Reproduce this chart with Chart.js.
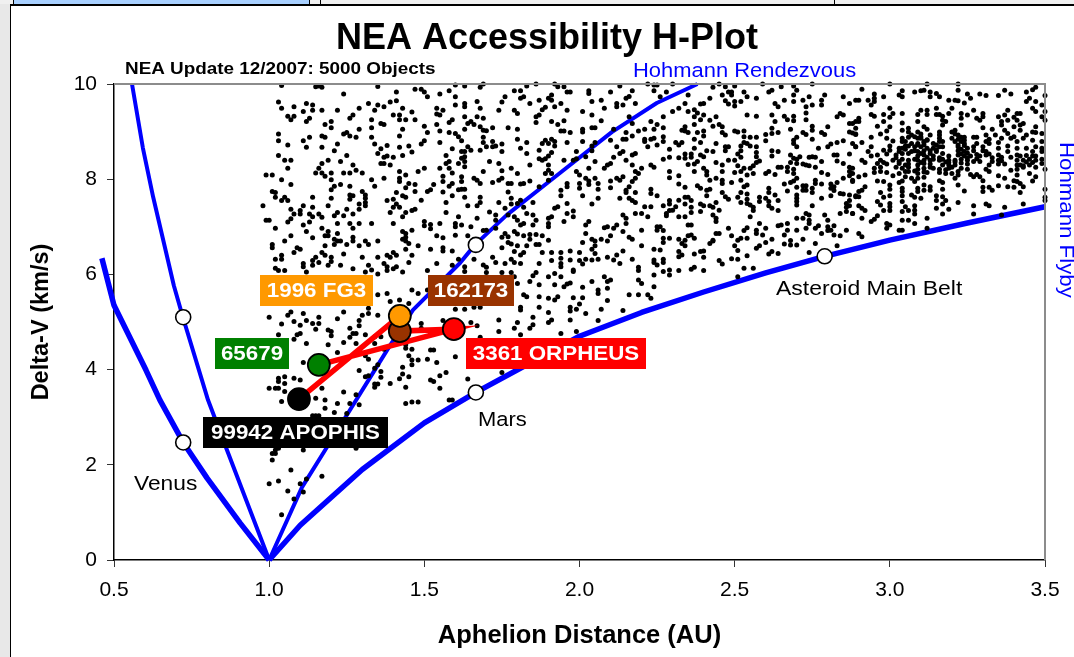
<!DOCTYPE html>
<html><head><meta charset="utf-8">
<style>
html,body{margin:0;padding:0;background:#fff;overflow:hidden;width:1074px;height:657px}
.b{position:absolute}
canvas{position:absolute;left:0;top:0}
</style>
<script src="https://cdn.jsdelivr.net/npm/chart.js@4"></script>
</head><body>
<div class="b" style="left:0;top:0;width:10px;height:657px;background:#e8e8e8"></div>
<div class="b" style="left:0;top:0;width:1074px;height:4px;background:#f0f0f0"></div>
<div class="b" style="left:14px;top:0;width:295px;height:4px;background:#a8d0ff"></div>
<div class="b" style="left:13px;top:0;width:1px;height:4px;background:#000"></div>
<div class="b" style="left:309px;top:0;width:1px;height:4px;background:#000"></div>
<div class="b" style="left:320px;top:0;width:1px;height:4px;background:#000"></div>
<div class="b" style="left:834px;top:0;width:1px;height:4px;background:#000"></div>
<div class="b" style="left:10px;top:4px;width:1064px;height:2px;background:#000"></div>
<div class="b" style="left:10px;top:4px;width:1px;height:653px;background:#000"></div>
<canvas id="c" width="1074" height="657"></canvas>
<script>
// Curves: [aphelion AU, delta-V km/s]
const venusFlyby=[[0.461,6.34],[0.5,5.35],[0.603,3.99],[0.648,3.36],[0.723,2.47],[0.8,1.72],[0.906,0.78],[1.0,0]];
const venusRendezvous=[[0.558,10],[0.593,8.66],[0.626,7.63],[0.693,5.76],[0.722,5.1],[0.803,3.36],[0.864,2.31],[1.0,0]];
const marsFlyby=[[1.0,0],[1.1,0.73],[1.3,1.9],[1.5,2.88],[1.666,3.52],[2.0,4.7],[2.2,5.2],[2.4,5.63],[2.6,6.03],[2.79,6.38],[3.0,6.72],[3.25,7.08],[3.5,7.42]];
const marsRendezvous=[[1.0,0],[1.106,1.53],[1.186,2.37],[1.38,4.41],[1.463,5.25],[1.615,6.24],[1.663,6.62],[1.766,7.25],[1.937,8.13],[2.104,8.99],[2.249,9.6],[2.38,10]];
const referenceBodies=[[0.723,5.1],[0.723,2.47],[1.666,6.62],[1.666,3.52],[2.79,6.38]];
// Highlighted asteroids
const highlightNames=["99942 APOPHIS","65679","162173","1996 FG3","3361 ORPHEUS"];
const highlightAphelion=[1.096,1.16,1.421,1.421,1.595];
const highlightDeltaV=[3.38,4.10,4.81,5.13,4.85];
const highlightColors=["#000000","#008000","#993300","#ff9900","#ff0000"];
const routeOrder=[0,3,2,4,1];
const xTicks=[0.5,1.0,1.5,2.0,2.5,3.0,3.5];
const yTicks=[0,2,4,6,8,10];
// NEA cloud, flat lists of aphelion, delta-V pairs
const neaWest=[1.04,9.97,1.15,9.94,1.16,9.96,1.17,9.93,1.35,9.95,1.24,9.79,1.41,9.83,1.47,9.89,1.49,9.89,1.5,9.83,1.51,9.73,1.55,9.79,1.58,9.86,1.6,9.98,1.6,9.73,1.03,9.62,1.08,9.52,1.04,9.49,1.12,9.59,1.14,9.56,1.14,9.45,1.11,9.42,1.17,9.45,1.22,9.45,1.29,9.49,1.32,9.59,1.35,9.56,1.34,9.45,1.37,9.52,1.39,9.62,1.41,9.65,1.43,9.49,1.46,9.41,1.4,9.35,1.42,9.35,1.42,9.25,1.44,9.25,1.47,9.25,1.54,9.49,1.56,9.45,1.54,9.37,1.55,9.35,1.6,9.56,1.06,9.32,1.08,9.32,1.07,9.25,1.13,9.28,1.12,9.21,1.27,9.35,1.26,9.28,1.33,9.25,1.18,9.15,1.2,9.21,1.2,9.08,1.36,9.17,1.37,9.15,1.33,9.08,1.43,9.05,1.5,9.11,1.54,9.15,1.58,9.19,1.59,9.25,1.55,9.01,1.58,8.98,1.6,8.96,1.61,8.89,1.03,8.95,1.03,8.81,1.06,8.72,1.11,8.81,1.13,8.88,1.17,8.91,1.18,8.88,1.24,8.95,1.25,8.98,1.26,8.91,1.29,9.05,1.28,8.88,1.33,8.88,1.34,8.74,1.42,8.91,1.51,8.98,1.5,8.81,1.49,8.74,1.55,8.77,1.12,8.67,1.17,8.67,1.22,8.74,1.21,8.6,1.38,8.71,1.36,8.64,1.42,8.67,1.45,8.7,1.59,8.64,1.35,8.54,1.38,8.49,1.37,8.46,1.4,8.46,1.43,8.5,1.46,8.57,1.03,8.5,1.05,8.4,1.07,8.4,1.25,8.5,1.23,8.37,1.19,8.4,1.17,8.33,1.36,8.33,1.37,8.33,1.39,8.3,1.57,8.5,1.58,8.37,1.57,8.33,1.61,8.33,1.06,8.23,1.27,8.3,1.28,8.19,1.16,8.23,1.15,8.13,1.17,8.13,1.18,8.06,1.2,8.13,1.24,8.13,1.26,8.13,1.3,8.13,0.99,8.09,1.01,8.09,1.48,8.16,1.5,8.23,1.55,8.23,1.58,8.23,1.59,8.13,1.42,8.16,1.44,8.09,1.42,8.02,1.42,7.95,1.56,8.06,1.56,7.95,1.37,8.02,1.33,7.99,1.2,7.99,1.04,7.99,1.07,7.89,1.23,7.89,1.26,7.85,1.21,7.85,1.2,7.78,1.34,7.85,1.45,7.91,1.47,7.89,1.44,7.82,1.59,7.91,1.58,7.85,1.53,7.89,1.52,7.78,1.51,7.74,1.61,7.78,1.47,7.74,1.01,7.74,1.02,7.72,1.3,7.74,1.31,7.67,1.41,7.72,1.56,7.73,1.43,7.65,1.44,7.62,1.02,7.62,1.05,7.62,1.04,7.55,1.06,7.55,1.14,7.62,1.2,7.6,1.26,7.67,1.27,7.65,1.26,7.58,1.31,7.6,1.31,7.51,1.29,7.48,1.38,7.55,1.4,7.58,1.49,7.56,1.59,7.65,1.57,7.51,0.98,7.44,1.11,7.44,1.14,7.41,1.19,7.44,1.31,7.44,1.41,7.48,1.4,7.41,1.42,7.41,1.07,7.37,1.25,7.37,1.29,7.37,1.47,7.37,1.1,7.34,1.1,7.27,1.08,7.27,1.13,7.27,1.14,7.21,1.16,7.27,1.17,7.2,1.22,7.3,1.21,7.23,1.24,7.23,1.27,7.27,1.39,7.3,1.44,7.3,1.43,7.21,1.46,7.34,1.57,7.3,1.61,7.21,0.99,7.14,1.0,7.14,1.07,7.17,1.06,7.1,1.11,7.04,1.13,7.1,1.22,7.07,1.26,7.07,1.29,7.07,1.33,7.07,1.4,7.07,1.5,7.11,1.5,7.02,1.52,7.05,1.52,6.96,1.55,7.07,1.6,7.07,1.6,7.0,1.02,6.97,1.17,6.97,1.27,6.97,1.12,6.9,1.19,6.9,1.43,6.9,1.44,6.86,1.46,6.93,1.07,6.81,1.14,6.77,1.18,6.81,1.19,6.81,1.22,6.86,1.27,6.78,1.44,6.78,1.54,6.81,1.56,6.77,1.6,6.82,1.05,6.7,1.21,6.74,1.22,6.7,1.23,6.7,1.25,6.63,1.27,6.7,1.31,6.7,1.32,6.63,1.29,6.6,1.35,6.7,1.43,6.74,1.44,6.7,1.45,6.65,1.48,6.6,1.01,6.63,1.01,6.56,1.18,6.6,1.21,6.63,1.09,6.56,1.1,6.53,1.08,6.46,1.44,6.53,1.52,6.53,1.56,6.56,1.56,6.49,1.59,6.49,1.17,6.46,1.18,6.4,1.24,6.43,1.4,6.46,1.41,6.4,1.38,6.4,1.46,6.4,1.04,6.4,1.04,6.32,1.02,6.32,1.15,6.36,1.14,6.29,1.2,6.36,1.2,6.27,1.16,6.25,1.3,6.36,1.35,6.36,1.39,6.36,1.61,6.32,1.11,6.23,1.11,6.16,1.14,6.19,1.19,6.19,1.23,6.19,1.32,6.19,1.37,6.23,1.38,6.16,1.38,6.08,1.45,6.25,1.54,6.23,1.59,6.19,1.02,6.13,1.03,6.08,1.05,6.08,1.12,6.05,1.27,6.12,1.31,6.05,1.33,6.09,1.35,6.01,1.41,6.16,1.4,6.12,1.43,6.05,1.51,6.08];
const neaLowWest=[1.0,5.1,1.07,5.21,1.06,5.14,1.08,5.01,1.11,5.18,1.12,5.03,1.1,4.93,1.04,4.96,1.14,4.97,1.16,5.1,1.16,4.97,1.15,4.85,1.22,5.07,1.24,5.21,1.19,4.83,1.2,4.8,1.2,4.71,1.26,4.87,1.27,4.76,1.28,4.76,1.3,5.14,1.29,5.03,1.29,4.92,1.32,5.29,1.32,5.18,1.35,5.14,1.1,4.76,1.09,4.73,1.08,4.64,1.03,4.73,1.12,4.55,1.19,4.52,1.24,4.57,1.26,4.68,1.28,4.55,1.31,4.73,1.34,4.69,1.37,4.43,1.34,4.55,1.36,4.69,1.22,4.36,1.11,4.15,1.29,4.34,1.31,4.29,1.32,4.22,1.35,4.1,1.34,4.03,1.29,3.98,1.31,3.85,1.32,3.87,1.36,3.96,1.36,3.84,1.34,3.7,1.35,3.7,1.34,3.63,1.39,3.71,1.44,3.63,1.43,4.05,1.43,3.91,1.42,3.81,1.45,3.85,1.44,4.52,1.44,4.45,1.46,4.43,1.45,4.29,1.46,4.2,1.48,4.2,1.46,4.1,1.51,4.22,1.54,4.15,1.52,4.41,1.53,4.41,1.6,4.27,1.52,3.78,1.53,3.75,1.55,3.87,1.57,3.94,1.55,3.61,1.46,3.32,1.48,3.32,1.44,3.29,1.58,3.36,1.59,3.36,1.49,4.97,1.49,4.87,1.52,4.73,1.35,5.57,1.38,5.6,1.39,5.43,1.42,5.46,1.46,5.67,1.48,5.6,1.51,5.67,1.45,5.39,1.6,5.27,1.56,5.03,1.03,3.82,1.05,3.85,1.03,3.75,1.08,3.82,1.1,3.78,1.05,3.71,1.0,3.61,1.02,3.61,1.03,3.61,1.05,3.54,1.04,3.33,1.15,3.4,1.18,3.36,1.18,3.19,1.22,3.29,1.26,3.29,1.29,3.26,1.28,3.47,1.24,3.53,1.17,3.61,1.25,3.08,1.21,3.1,1.14,3.03,1.15,3.03,1.16,3.03,1.11,2.31,1.02,2.31,1.01,2.24,1.02,2.24,1.01,2.1,1.07,1.89,1.17,1.76,1.28,2.35,1.03,2.35,1.12,1.7,1.03,1.66,1.0,1.6,1.1,1.6,1.06,1.45,1.11,1.43,1.08,1.28,1.04,0.95];
const neaCentral=[1.63,9.96,1.69,10,1.68,9.93,1.83,9.96,1.86,10,1.92,10,1.93,9.94,1.95,9.94,2.13,9.96,2.22,10,2.24,9.98,2.25,9.98,1.79,9.86,1.81,9.86,1.96,9.83,1.97,9.83,2.03,9.86,2.03,9.8,2.1,9.83,2.17,9.86,2.16,9.74,2.24,9.86,1.76,9.73,1.82,9.73,1.81,9.7,1.91,9.77,1.9,9.7,1.91,9.66,1.87,9.66,2.07,9.66,2.04,9.63,2.15,9.7,2.18,9.59,1.67,9.63,1.75,9.62,1.84,9.59,1.94,9.59,1.92,9.52,2.12,9.59,2.12,9.52,2.14,9.56,1.63,9.59,1.63,9.52,1.68,9.49,1.89,9.51,1.88,9.46,2.08,9.49,1.74,9.45,1.79,9.45,1.8,9.38,1.96,9.45,2.01,9.42,1.87,9.35,1.86,9.31,2.04,9.35,1.63,9.31,1.67,9.31,1.69,9.28,2.16,9.31,1.91,9.21,1.86,9.19,1.95,9.23,1.93,9.15,2.07,9.23,1.65,9.21,1.64,9.17,1.66,9.15,1.68,9.1,1.69,9.03,1.7,9.02,1.72,9.08,1.77,9.08,1.8,9.05,1.63,9.05,2.04,9.08,2.05,9.08,2.17,9.17,2.23,9.21,2.25,9.15,1.94,9.01,1.95,9.01,1.97,8.98,2.01,9.05,2.01,8.99,2.11,9.05,2.15,8.98,2.19,9.01,2.21,9.05,2.24,9.05,1.69,8.88,1.8,8.84,2.17,8.91,2.21,8.84,2.21,8.79,2.24,8.86,2.23,8.84,1.62,8.81,1.72,8.79,1.69,8.77,1.83,8.77,1.89,8.82,1.91,8.84,1.92,8.79,1.88,8.75,1.9,8.75,1.96,8.77,2.01,8.79,2.05,8.77,2.14,8.84,2.15,8.84,2.1,8.82,1.75,8.74,1.7,8.68,1.72,8.68,1.73,8.7,1.64,8.68,1.65,8.61,1.68,8.61,1.92,8.7,2.04,8.7,2.04,8.6,2.12,8.68,2.22,8.68,2.25,8.72,1.62,8.58,1.63,8.58,1.75,8.58,1.81,8.65,1.87,8.61,1.91,8.56,1.99,8.58,2.14,8.58,2.13,8.54,2.17,8.51,2.18,8.54,1.83,8.54,1.9,8.49,2.02,8.47,2.11,8.46,1.63,8.47,1.62,8.44,1.87,8.43,1.88,8.4,1.89,8.43,1.95,8.4,1.98,8.4,1.99,8.43,2.05,8.37,2.15,8.4,2.1,8.33,2.09,8.3,2.08,8.23,1.63,8.37,1.71,8.37,1.74,8.33,1.84,8.3,2.17,8.3,1.9,8.3,2.23,8.3,2.24,8.25,1.63,8.26,1.78,8.23,1.9,8.19,1.75,8.18,1.69,8.16,1.8,8.12,1.89,8.12,1.91,8.12,1.99,8.16,2,8.09,2.03,8.23,2.2,8.23,2.18,8.16,2.19,8.12,1.62,8.05,1.66,8.02,1.67,7.98,1.68,7.91,1.75,8.02,1.74,7.98,1.72,7.93,1.84,7.96,1.9,7.98,2.02,8.02,2.03,7.96,2.05,8.02,2.03,7.89,2.1,7.96,2.12,8.02,2.14,8.05,2.13,7.98,2.18,8.02,2.17,7.95,1.62,7.95,1.77,7.91,1.78,7.91,1.81,7.9,1.82,7.91,1.87,7.84,1.96,7.91,2,7.91,1.96,7.84,2.06,7.91,2.16,7.84,2.1,7.82,2.15,7.77,1.62,7.79,1.63,7.79,2,7.81,2.06,7.79,1.77,7.73,1.94,7.65,1.94,7.77,2.01,7.65,2.06,7.6,2.23,7.79,2.23,7.7,2.25,7.65,2.13,7.6,2.16,7.6,2.17,7.55,2.15,7.72,2.18,7.72,1.63,7.62,1.68,7.62,1.68,7.51,1.67,7.44,1.64,7.44,1.78,7.6,1.78,7.48,1.81,7.56,1.8,7.49,1.74,7.51,1.85,7.51,1.96,7.49,2.04,7.48,2.18,7.51,1.82,7.41,1.76,7.39,1.92,7.39,1.93,7.42,2.21,7.42,2.23,7.42,1.71,7.31,1.73,7.25,1.77,7.25,1.79,7.21,1.83,7.28,1.85,7.25,1.96,7.28,1.98,7.33,1.98,7.21,2.14,7.25,2.18,7.28,2.2,7.28,2.22,7.21,1.67,7.18,1.73,7.14,1.8,7.14,1.82,7.07,1.81,7.04,1.86,7.14,1.85,7.04,1.9,7.18,1.91,7.21,1.9,7.07,1.9,7,1.95,7.11,2.03,7.11,2.02,7.04,2.15,7.18,2.15,7.07,1.62,7.04,1.65,7,2.08,6.98,2.09,7,2.12,7.04,2.11,6.97,2.25,7,2.25,6.93,1.73,6.97,1.69,6.92,1.7,6.93,2.14,6.9,2.2,6.93,1.79,6.9,1.8,6.85,1.76,6.86,1.75,6.78,1.77,6.79,1.77,6.67,1.64,6.81,2.02,6.86,2.1,6.81,2.16,6.78,2.17,6.74,1.82,6.81,1.84,6.84,1.86,6.84,1.88,6.81,1.9,6.72,1.84,6.74,1.78,6.64,1.75,6.56,1.8,6.6,1.83,6.6,1.86,6.63,1.87,6.63,2.01,6.67,2.04,6.74,2.05,6.7,2.05,6.6,2.07,6.74,2.09,6.7,2.2,6.6,2.24,6.53,1.79,6.48,1.82,6.46,1.81,6.41,1.88,6.46,1.91,6.46,1.94,6.46,1.97,6.49,2,6.46,2.04,6.53,2.05,6.44,2.12,6.41,2.14,6.49,1.66,6.32,1.72,6.36,1.73,6.25,1.78,6.32,1.79,6.25,1.76,6.23,1.81,6.23,1.87,6.23,1.91,6.29,1.94,6.34,1.94,6.23,1.97,6.3,2,6.29,2.01,6.22,2.02,6.32,2.04,6.3,2.06,6.32,2.09,6.36,2.11,6.3,2.13,6.23,2.17,6.32,2.24,6.3,2.24,6.25,2.25,6.2,1.69,6.2,1.7,6.15,1.63,6.16,1.63,6.06,1.94,6.16,1.98,6.09,1.98,6.06,2.19,6.15,2.19,6.08,2.24,5.99,1.86,6.04,1.85,5.97,1.92,6.02,1.9,5.95,1.94,5.95,1.75,6.04,1.78,6.04,1.79,5.95,1.7,6.04,2.08,5.95];
const neaLowCentral=[1.8,5.81,1.84,5.85,1.87,5.78,1.92,5.78,1.95,5.74,1.96,5.8,1.97,5.82,2.01,5.73,2.04,5.85,2.1,5.88,2.09,5.85,2.06,5.67,2.06,5.6,2.09,5.71,2.19,5.88,2.2,5.81,2.24,5.74,2.16,5.57,2.19,5.57,2.22,5.57,2.23,5.5,1.82,5.57,1.83,5.53,1.87,5.53,1.9,5.5,1.93,5.53,1.92,5.46,1.98,5.51,2.01,5.51,2.09,5.45,2,5.38,1.81,5.31,1.81,5.25,1.87,5.31,1.97,5.31,1.97,5.23,1.99,5.27,2.07,5.27,2.14,5.24,2.02,5.18,1.9,5.2,1.63,5.27,1.66,5.31,1.68,5.31,1.74,5.04,1.8,4.99,1.85,5.1,1.85,4.94,1.9,4.99,1.91,5.04,1.97,5.04,2.06,5.03,1.65,4.99,1.67,4.92,1.79,4.87,1.84,4.87,1.74,4.8,1.94,4.76,1.99,4.8,1.81,4.73,1.68,4.68,1.75,3.94,1.64,3.8];
const neaEast=[2.3,10,2.43,9.93,2.45,10,2.47,9.94,2.5,9.96,2.59,10,2.65,9.94,2.69,9.96,2.75,10,2.62,9.87,2.61,9.83,2.7,9.87,2.28,9.83,2.26,9.73,2.35,9.77,2.46,9.77,2.48,9.83,2.49,9.83,2.49,9.77,2.53,9.83,2.54,9.73,2.57,9.7,2.69,9.77,2.74,9.73,2.79,9.77,2.85,9.73,2.42,9.7,2.4,9.59,2.39,9.58,2.34,9.59,2.32,9.49,2.3,9.42,2.47,9.65,2.48,9.58,2.5,9.63,2.5,9.54,2.52,9.63,2.63,9.59,2.64,9.52,2.66,9.66,2.69,9.63,2.72,9.66,2.73,9.52,2.78,9.66,2.78,9.56,2.75,9.56,2.84,9.38,2.85,9.35,2.87,9.59,2.89,9.66,2.37,9.46,2.38,9.39,2.35,9.42,2.4,9.35,2.37,9.31,2.54,9.35,2.57,9.32,2.62,9.35,2.66,9.32,2.67,9.25,2.69,9.32,2.69,9.23,2.73,9.39,2.73,9.25,2.83,9.31,2.27,9.31,2.44,9.31,2.39,9.25,2.42,9.24,2.63,9.21,2.37,9.15,2.34,9.1,2.27,9.08,2.43,9.11,2.45,9.15,2.46,9.1,2.75,9.11,2.75,9.03,2.8,9.1,2.87,9.17,2.89,9.21,2.33,9.03,2.34,9.01,2.35,8.98,2.38,8.98,2.4,9.01,2.4,8.91,2.46,8.98,2.47,8.93,2.5,9.01,2.51,8.99,2.53,9.01,2.62,9.07,2.64,8.98,2.62,8.96,2.6,8.94,2.68,9.05,2.72,8.98,2.73,8.94,2.78,8.98,2.79,8.94,2.87,8.99,2.89,8.94,2.27,8.89,2.37,8.84,2.53,8.89,2.55,8.88,2.57,8.88,2.6,8.81,2.7,8.88,2.69,8.82,2.69,8.75,2.75,8.84,2.27,8.79,2.31,8.77,2.33,8.77,2.32,8.72,2.39,8.77,2.44,8.75,2.53,8.77,2.54,8.75,2.52,8.7,2.55,8.7,2.57,8.68,2.7,8.68,2.81,8.74,2.83,8.77,2.85,8.81,2.8,8.68,2.89,8.68,2.29,8.63,2.37,8.65,2.41,8.6,2.43,8.58,2.47,8.68,2.48,8.68,2.47,8.6,2.52,8.6,2.34,8.53,2.36,8.53,2.39,8.51,2.4,8.47,2.51,8.53,2.57,8.56,2.62,8.6,2.64,8.58,2.68,8.51,2.75,8.47,2.77,8.65,2.82,8.51,2.83,8.51,2.87,8.53,2.27,8.42,2.29,8.46,2.32,8.45,2.34,8.44,2.36,8.46,2.52,8.46,2.57,8.47,2.62,8.49,2.69,8.44,2.7,8.42,2.71,8.47,2.74,8.46,2.76,8.46,2.38,8.37,2.44,8.35,2.48,8.4,2.5,8.4,2.58,8.38,2.57,8.35,2.68,8.35,2.7,8.33,2.72,8.32,2.73,8.3,2.78,8.37,2.83,8.38,2.85,8.33,2.35,8.31,2.37,8.32,2.51,8.28,2.56,8.28,2.55,8.23,2.53,8.23,2.46,8.3,2.64,8.25,2.65,8.25,2.67,8.25,2.69,8.21,2.74,8.28,2.76,8.25,2.87,8.25,2.29,8.16,2.37,8.16,2.4,8.23,2.41,8.16,2.46,8.16,2.5,8.14,2.52,8.16,2.6,8.12,2.61,8.16,2.63,8.1,2.67,8.16,2.69,8.12,2.78,8.14,2.8,8.1,2.87,8.16,2.87,8.07,2.29,8.03,2.32,8.07,2.41,8.09,2.42,7.98,2.44,8.02,2.46,7.98,2.54,8.09,2.56,8.12,2.49,7.93,2.52,7.98,2.7,8.02,2.69,7.96,2.68,7.93,2.76,7.98,2.76,7.91,2.78,7.9,2.85,8.02,2.83,7.93,2.81,7.9,2.88,7.95,2.32,7.9,2.34,7.83,2.38,7.86,2.39,7.81,2.41,7.77,2.42,7.79,2.46,7.91,2.54,7.88,2.53,7.84,2.61,7.81,2.66,7.9,2.7,7.83,2.72,7.86,2.73,7.86,2.72,7.77,2.73,7.77,2.75,7.81,2.82,7.84,2.81,7.81,2.82,7.76,2.41,7.65,2.46,7.72,2.52,7.72,2.54,7.69,2.61,7.72,2.63,7.67,2.67,7.75,2.7,7.67,2.75,7.72,2.84,7.7,2.85,7.69,2.87,7.67,2.89,7.65,2.81,7.65,2.47,7.63,2.51,7.62,2.58,7.62,2.6,7.6,2.64,7.55,2.7,7.6,2.78,7.6,2.48,7.58,2.54,7.58,2.29,7.55,2.32,7.56,2.34,7.62,2.35,7.62,2.36,7.55,2.44,7.51,2.52,7.51,2.54,7.49,2.58,7.53,2.61,7.53,2.7,7.53,2.87,7.55,2.86,7.49,2.27,7.44,2.29,7.48,2.31,7.42,2.34,7.48,2.36,7.41,2.39,7.48,2.4,7.44,2.42,7.44,2.43,7.41,2.45,7.35,2.55,7.46,2.56,7.41,2.61,7.44,2.62,7.39,2.7,7.46,2.75,7.44,2.87,7.44,2.86,7.41,2.29,7.34,2.3,7.35,2.28,7.28,2.36,7.3,2.39,7.32,2.56,7.34,2.64,7.34,2.86,7.32,2.88,7.28,2.84,7.28,2.28,7.23,2.32,7.21,2.34,7.21,2.43,7.25,2.44,7.18,2.55,7.21,2.73,7.28,2.74,7.25,2.7,7.18,2.72,7.18,2.74,7.14,2.79,7.25,2.44,7.11,2.58,7.07,2.67,7.07,2.35,7.04,2.36,7.04,2.64,7.02,2.65,7.04,2.74,7.07,2.8,7.14,2.26,7,2.48,6.97,2.54,6.98,2.53,6.92,2.57,6.93,2.6,6.97,2.67,6.93,2.7,6.93,2.73,6.97,2.77,7.02,2.76,6.97,2.8,7,2.82,7.02,2.86,6.93,2.27,6.92,2.57,6.86,2.59,6.83,2.66,6.83,2.78,6.86,2.8,6.92,2.81,6.93,2.82,6.83,2.84,6.81,2.44,6.86,2.45,6.86,2.49,6.81,2.35,6.81,2.36,6.83,2.37,6.76,2.27,6.76,2.29,6.76,2.32,6.74,2.34,6.72,2.43,6.72,2.52,6.76,2.54,6.76,2.51,6.72,2.62,6.74,2.72,6.74,2.27,6.67,2.33,6.65,2.34,6.6,2.42,6.65,2.43,6.7,2.6,6.67,2.66,6.64,2.68,6.71,2.68,6.62,2.7,6.62,2.76,6.65,2.83,6.6,2.5,6.6,2.58,6.6,2.57,6.55,2.26,6.51,2.32,6.48,2.33,6.41,2.37,6.43,2.39,6.48,2.4,6.49,2.51,6.5,2.62,6.48,2.64,6.44,2.61,6.43,2.74,6.46,2.54,6.39,2.4,6.36,2.32,6.37,2.27,6.32,2.27,6.25,2.45,6.29,2.46,6.22,2.49,6.33,2.51,6.32,2.37,6.15,2.36,6.11,2.32,6.08,2.4,6.08,2.27,6.06,2.29,6.09,2.29,5.99,2.53,6.13,2.56,6.13,2.51,5.95];
const neaMainBelt=[3,10,3.12,10,3.22,10,2.91,9.89,3.11,9.87,3.22,9.87,3.37,9.87,3.08,9.83,3.1,9.86,3.13,9.83,3.47,9.93,3.46,9.88,2.95,9.79,2.98,9.73,3.04,9.86,3.03,9.77,3.04,9.73,3.15,9.8,3.16,9.73,3.13,9.73,3.25,9.79,3.29,9.79,3.31,9.76,3.35,9.76,3.39,9.79,3.44,9.83,3.5,9.76,2.9,9.66,2.93,9.66,2.95,9.7,2.95,9.63,2.94,9.56,3.19,9.66,3.21,9.66,3.22,9.65,3.24,9.6,3.26,9.7,3.44,9.63,3.45,9.7,3.47,9.63,3.49,9.56,3.46,9.49,3,9.49,3.1,9.45,3.12,9.45,3.15,9.49,3.2,9.49,3.23,9.38,3.27,9.45,3.38,9.45,3.47,9.42,3.5,9.42,2.9,9.28,2.94,9.36,2.95,9.32,2.98,9.36,3.01,9.38,3,9.3,3.04,9.38,3.09,9.36,3.12,9.36,3.15,9.36,3.16,9.36,3.17,9.32,3.19,9.38,3.25,9.35,3.3,9.38,3.3,9.31,3.35,9.31,3.37,9.35,3.41,9.38,3.42,9.38,3.4,9.3,3.49,9.31,3.5,9.24,2.9,9.21,2.98,9.21,3.09,9.21,3.17,9.24,3.18,9.21,3.23,9.28,3.28,9.28,3.29,9.24,3.36,9.21,3.38,9.24,3.41,9.24,3.43,9.17,3.04,9.18,2.88,9.17,2.96,9.11,3,9.1,3.17,9.14,3.23,9.14,3.3,9.08,3.36,9.14,3.42,9.14,3.4,9.1,3.47,9.1,2.89,9.07,2.99,9.01,3.04,9.03,3.06,9.07,3.09,8.99,3.11,9.1,3.12,9.05,3.21,9.03,3.33,9.05,3.37,9.03,3.38,8.96,3.42,9.03,3.46,8.99,3.47,8.98,2.88,8.97,2.89,8.95,2.97,8.95,3.06,8.99,3.07,8.93,3.1,8.95,3.13,8.93,3.16,8.99,3.16,8.93,3.2,8.99,3.21,8.95,3.22,8.93,3.31,8.93,3.34,8.93,3.4,8.89,3.44,8.93,3.49,8.96,2.94,8.88,2.99,8.86,3.04,8.86,3.06,8.88,3.09,8.86,3.1,8.86,3.12,8.82,3.16,8.86,3.2,8.86,3.23,8.88,3.24,8.88,3.27,8.88,3.28,8.88,3.32,8.84,3.36,8.86,3.39,8.86,3.41,8.79,3.43,8.86,3.46,8.82,2.91,8.77,3.01,8.8,3.04,8.79,3.05,8.79,3.07,8.75,3.09,8.75,3.11,8.77,3.14,8.75,3.16,8.79,3.21,8.79,3.23,8.79,3.24,8.75,3.28,8.75,3.31,8.79,3.32,8.75,3.35,8.77,3.49,8.79,2.88,8.75,2.89,8.68,2.94,8.68,3,8.7,3.03,8.65,3.04,8.65,3.06,8.7,3.08,8.68,3.1,8.68,3.12,8.65,3.14,8.65,3.16,8.68,3.17,8.68,3.22,8.68,3.25,8.65,3.27,8.68,3.3,8.68,3.35,8.65,3.38,8.7,3.41,8.65,3.44,8.65,3.47,8.68,3.49,8.65,2.93,8.58,2.98,8.61,3,8.61,3.03,8.58,3.07,8.58,3.09,8.58,3.11,8.6,3.13,8.54,3.15,8.58,3.22,8.6,3.24,8.58,3.31,8.58,3.31,8.51,3.46,8.58,3.49,8.58,2.94,8.49,2.96,8.51,2.99,8.53,3.02,8.51,3.04,8.54,3.09,8.49,3.11,8.51,3.14,8.49,3.19,8.49,3.22,8.51,3.24,8.49,3.26,8.49,3.29,8.49,3.32,8.53,3.35,8.51,3.41,8.51,3.42,8.49,3.46,8.49,3.47,8.49,2.91,8.4,2.97,8.4,3.01,8.4,3.04,8.42,3.06,8.4,3.09,8.4,3.11,8.4,3.13,8.4,3.16,8.4,3.17,8.42,3.19,8.4,3.21,8.4,3.23,8.42,3.25,8.4,3.27,8.37,3.29,8.37,3.33,8.37,3.35,8.4,3.36,8.39,3.41,8.4,3.43,8.4,3.45,8.42,3.47,8.4,3.49,8.42,2.92,8.35,2.96,8.33,2.98,8.35,2.99,8.32,3.03,8.33,3.05,8.3,3.09,8.3,3.11,8.33,3.13,8.32,3.17,8.3,3.19,8.3,3.21,8.3,3.25,8.32,3.32,8.3,3.35,8.32,3.37,8.32,3.41,8.3,3.42,8.3,3.45,8.3,3.49,8.33,2.95,8.23,2.97,8.25,3.02,8.25,3.04,8.23,3.06,8.25,3.09,8.21,3.11,8.23,3.14,8.23,3.16,8.21,3.19,8.23,3.23,8.23,3.25,8.21,3.31,8.21,3.41,8.21,3.43,8.25,3.47,8.25,3.5,8.21,2.88,8.23,2.95,8.14,2.97,8.16,2.99,8.14,3.03,8.12,3.06,8.16,3.09,8.12,3.12,8.14,3.16,8.14,3.18,8.12,3.2,8.12,3.22,8.16,3.26,8.1,3.28,8.1,3.32,8.16,3.39,8.19,3.45,8.12,2.88,8.12,2.9,8.05,2.92,8.09,3.01,8.07,3.05,8.05,3.07,8.02,3.09,8.02,3.11,8.04,3.21,8.02,3.27,8.05,3.29,8.05,3.35,8.07,3.37,8.02,3.41,8.09,3.47,8.05,2.88,7.98,2.96,7.96,2.98,7.95,3.03,7.93,3.04,7.96,3.08,7.95,3.16,7.97,3.17,7.93,3.3,7.97,3.4,7.97,3.41,7.95,3.42,7.91,3.46,7.96,2.92,7.84,3,7.88,3.04,7.81,3.09,7.81,3.11,7.88,3.13,7.84,3.22,7.88,3.3,7.83,3.32,7.83,3.35,7.86,3.38,7.84,3.4,7.83,3.43,7.84,3.5,7.79,2.9,7.74,2.91,7.77,2.97,7.72,3,7.79,3.04,7.74,3.09,7.74,3.11,7.77,3.13,7.77,3.17,7.79,3.24,7.75,3.3,7.74,3.33,7.77,3.42,7.72,2.89,7.63,2.9,7.63,2.98,7.62,3,7.65,3.04,7.65,3.07,7.67,3.1,7.6,3.15,7.65,3.17,7.63,3.5,7.62,3.5,7.55,2.96,7.53,3.04,7.53,3.08,7.62,3.15,7.55,3.18,7.55,3.22,7.51,3,7.49,3.17,7.48,3.31,7.48,3.32,7.44,3.27,7.44,3.43,7.48,2.9,7.44,2.91,7.39,2.92,7.34,2.97,7.46,3,7.42,3,7.34,3.05,7.42,3.08,7.44,3.08,7.35,3.15,7.39,3.19,7.37,3.37,7.41,2.98,7.34,3.04,7.32,3.06,7.34,2.88,7.28,3.08,7.27,3.17,7.27,3.27,7.27,2.96,7.23,2.91,7.18,2.95,7.16,2.94,7.11,3.12,7.18,3.04,7.14,3.06,7.14,3.36,7.25,2.99,7.07,3,7.04,3.08,7.07,2.99,6.97,3.03,6.93,3.04,6.93,3.12,6.97,2.9,6.86,2.91,6.79];
const neaBeltCore=[3.08,8.89,3.1,8.89,3.11,8.79,3.09,8.72,3.11,8.72,3.08,8.6,3.1,8.54,3.12,8.46,3.08,8.42,3.1,8.35,3.15,8.72,3.17,8.79,3.15,8.62,3.17,8.54,3.16,8.45,3.18,8.36,3.22,8.84,3.24,8.82,3.22,8.72,3.24,8.71,3.23,8.63,3.25,8.55,3.23,8.53,3.25,8.45,3.21,8.36,3.23,8.34,3.05,8.63,3.02,8.45,3.03,8.37,3.06,8.32,3.06,8.54,3.13,8.6,3.14,8.42,3.19,8.35,3.27,8.6,3.28,8.52,3.28,8.43,3.3,8.6,3.33,8.45,3.36,8.46,3.38,8.58,3.39,8.46,3.44,8.5,3.44,8.36,3.46,8.35,3.43,8.28,3.13,8.25,3.2,8.25,3.18,8.2,3.05,8.16,3.08,8.17,3.11,8.15,3.22,8.09,3.12,8.83,3.05,8.7];

const pairs=l=>{const o=[];for(let i=0;i<l.length;i+=2)o.push({x:l[i],y:l[i+1]});return o;};
const xy=l=>l.map(p=>({x:p[0],y:p[1]}));
const cloud=[...pairs(neaWest),...pairs(neaLowWest),...pairs(neaCentral),...pairs(neaLowCentral),...pairs(neaEast),...pairs(neaMainBelt),...pairs(neaBeltCore)];
const F='"Liberation Sans",Arial,sans-serif';
const blue='#0000ff';
const curve=(data,w)=>({data:xy(data),showLine:true,borderColor:blue,borderWidth:w,pointRadius:0,tension:0,clip:false,borderJoinStyle:'round'});

const decor={id:'decor',afterDatasetsDraw(ch){
  const c=ch.ctx,a=ch.chartArea;
  c.save();
  c.strokeStyle='#8c8c8c';c.lineWidth=2;
  c.beginPath();c.moveTo(a.left,a.top);c.lineTo(a.right,a.top);c.lineTo(a.right,a.bottom);c.stroke();
  const txt=(t,x,y,font,col,sx,rot)=>{c.save();c.translate(x,y);if(rot)c.rotate(rot);c.scale(sx||1,1);c.font=font;c.fillStyle=col;c.textAlign='left';c.textBaseline='middle';c.fillText(t,0,0);c.restore();};
  txt('NEA Update 12/2007: 5000 Objects',125,70,'bold 16px '+F,'#000',1.18);
  txt('Hohmann Rendezvous',633,71.5,'20.5px '+F,blue,1.07);
  txt('Hohmann Flyby',1066,142,'20.5px '+F,blue,1.085,Math.PI/2);
  txt('Asteroid Main Belt',776,289,'20.5px '+F,'#000',1.12);
  txt('Mars',478,420,'20.5px '+F,'#000',1.07);
  txt('Venus',134,484.5,'20.5px '+F,'#000',1.11);
  const boxes=[[203,417,185,31],[215,338,74,31],[428,275,86,31],[260,275,113,31],[466,338,180,31]];
  highlightNames.forEach((n,i)=>{const b=boxes[i];
    c.fillStyle=highlightColors[i];c.fillRect(b[0],b[1],b[2],b[3]);
    c.save();c.translate(b[0]+b[2]/2,b[1]+b[3]/2+0.5);c.scale(1.09,1);c.font='bold 20.5px '+F;c.fillStyle='#fff';c.textAlign='center';c.textBaseline='middle';c.fillText(n,0,0);c.restore();});
  c.restore();
}};

new Chart(document.getElementById('c'),{
  type:'scatter',
  plugins:[decor],
  data:{datasets:[
    {label:'Highlights',data:highlightNames.map((n,i)=>({x:highlightAphelion[i],y:highlightDeltaV[i]})),pointRadius:11,pointBackgroundColor:highlightColors,pointBorderColor:'#000',pointBorderWidth:1.8,clip:false},
    {label:'Route',data:routeOrder.map(i=>({x:highlightAphelion[i],y:highlightDeltaV[i]})),showLine:true,borderColor:'#ff0000',borderWidth:5.5,pointRadius:0,tension:0},
    {label:'Bodies',data:xy(referenceBodies),pointRadius:7.5,pointBackgroundColor:'#fff',pointBorderColor:'#000',pointBorderWidth:1.6,clip:false},
    {label:'NEA',data:cloud,pointStyle:'circle',pointRadius:2.5,pointBackgroundColor:'#000',pointBorderWidth:0,clip:false},
    {label:'Venus flyby',...curve(venusFlyby,5.5)},
    {label:'Venus rendezvous',...curve(venusRendezvous,4)},
    {label:'Mars flyby',...curve(marsFlyby,5.5)},
    {label:'Mars rendezvous',...curve(marsRendezvous,4)}
  ]},
  options:{
    responsive:false,animation:false,
    layout:{padding:{left:20,right:0,top:0,bottom:0}},
    plugins:{legend:{display:false},tooltip:{enabled:false},
      title:{display:true,text:'NEA Accessibility H-Plot',color:'#000',font:{family:F,size:36,weight:'bold',lineHeight:1.2},padding:{top:17,bottom:23.8}}},
    scales:{
      x:{type:'linear',min:0.5,max:3.5,afterFit:s=>{s.height=97;},afterBuildTicks:s=>{s.ticks=xTicks.map(v=>({value:v}));},
        border:{display:true,color:'#000',width:1.5},
        grid:{display:true,drawOnChartArea:false,drawTicks:true,tickLength:7,color:'#333',lineWidth:1},
        ticks:{color:'#000',font:{family:F,size:21},padding:11,maxRotation:0,callback:v=>Number(v).toFixed(1)},
        title:{display:true,text:'Aphelion Distance (AU)',color:'#000',font:{family:F,size:25.5,weight:'bold',lineHeight:1.2},padding:{top:0,bottom:6}}},
      y:{type:'linear',min:0,max:10,afterFit:s=>{s.width=94;},afterBuildTicks:s=>{s.ticks=yTicks.map(v=>({value:v}));},
        border:{display:true,color:'#000',width:1.5},
        grid:{display:true,drawOnChartArea:false,drawTicks:true,tickLength:7,color:'#333',lineWidth:1},
        ticks:{color:'#000',font:{family:F,size:21},padding:10},
        title:{display:true,text:'Delta-V (km/s)',color:'#000',font:{family:F,size:23.5,weight:'bold',lineHeight:1.2},padding:{top:7,bottom:0}}},
      y2:{type:'linear',position:'right',display:true,min:0,max:10,afterFit:s=>{s.width=29;},
        border:{display:false},grid:{display:false},ticks:{display:false}}
    }
  }
});
</script>
</body></html>
